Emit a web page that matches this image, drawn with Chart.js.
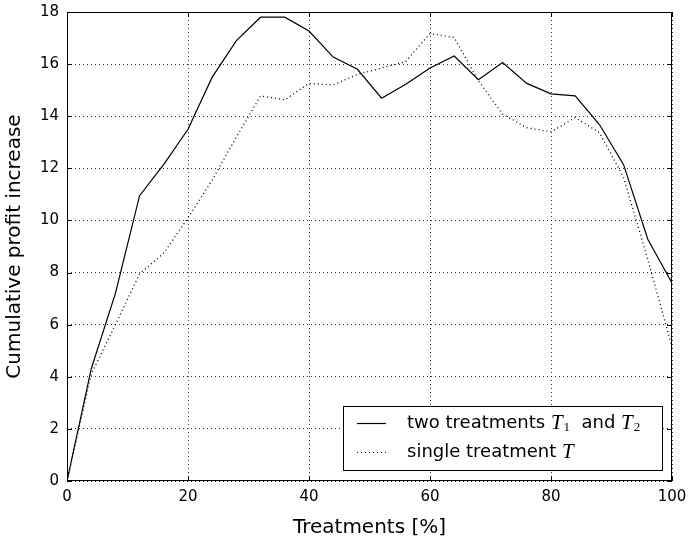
<!DOCTYPE html>
<html>
<head>
<meta charset="utf-8">
<script src="https://cdn.jsdelivr.net/npm/chart.js@4.4.1/dist/chart.umd.min.js"></script>
<style>
  html, body { margin: 0; padding: 0; background: #fff; }
  #wrap { width: 688px; height: 540px; }
</style>
</head>
<body>
<div id="wrap"><canvas id="chart" width="688" height="540"></canvas></div>
<script>
// Data
const treatmentsPct = [0, 4, 8, 12, 16, 20, 24, 28, 32, 36, 40, 44, 48, 52, 56, 60, 64, 68, 72, 76, 80, 84, 88, 92, 96, 100];
const twoTreatments = [0, 4.3, 7.2, 10.95, 12.15, 13.5, 15.5, 16.9, 17.8, 17.8, 17.27, 16.27, 15.8, 14.69, 15.23, 15.85, 16.31, 15.4, 16.06, 15.26, 14.86, 14.78, 13.68, 12.14, 9.28, 7.6];
const singleTreatment = [0, 4.1, 6.0, 7.95, 8.75, 10.1, 11.55, 13.2, 14.78, 14.63, 15.26, 15.2, 15.6, 15.85, 16.1, 17.18, 17.02, 15.36, 14.08, 13.56, 13.4, 13.95, 13.37, 11.65, 8.5, 5.15];
const xTicks = [0, 20, 40, 60, 80, 100];
const yTicks = [0, 2, 4, 6, 8, 10, 12, 14, 16, 18];

const FONT = "'DejaVu Sans', sans-serif";

// Frame and inward tick marks like the classic matplotlib look
const framePlugin = {
  id: 'frame',
  afterDatasetsDraw(chart) {
    const { ctx, chartArea: a, scales } = chart;
    ctx.save();
    ctx.strokeStyle = '#000';
    ctx.lineWidth = 1;
    ctx.setLineDash([]);
    ctx.strokeRect(a.left + 0.5, a.top + 0.5, a.right - a.left - 1, a.bottom - a.top - 1);
    ctx.beginPath();
    xTicks.forEach(v => {
      const x = Math.round(scales.x.getPixelForValue(v)) + 0.5;
      ctx.moveTo(x, a.bottom); ctx.lineTo(x, a.bottom - 5);
      ctx.moveTo(x, a.top); ctx.lineTo(x, a.top + 5);
    });
    yTicks.forEach(v => {
      const y = Math.round(scales.y.getPixelForValue(v)) + 0.5;
      ctx.moveTo(a.left, y); ctx.lineTo(a.left + 5, y);
      ctx.moveTo(a.right, y); ctx.lineTo(a.right - 5, y);
    });
    ctx.stroke();
    ctx.restore();
  }
};

// Legend box with math-style T subscripts
const legendPlugin = {
  id: 'mathLegend',
  afterDraw(chart) {
    const ctx = chart.ctx;
    const box = { x: 343.5, y: 406.5, w: 319, h: 64 };
    ctx.save();
    ctx.fillStyle = '#fff';
    ctx.fillRect(box.x, box.y, box.w, box.h);
    ctx.strokeStyle = '#000';
    ctx.lineWidth = 1;
    ctx.strokeRect(box.x, box.y, box.w, box.h);

    const rows = [
      { y: 423, dash: [], parts: [['two treatments ', 'n'], ['T', 'i'], ['1', 's'], ['  and ', 'n'], ['T', 'i'], ['2', 's']] },
      { y: 452, dash: [1, 3], parts: [['single treatment ', 'n'], ['T', 'i']] }
    ];
    rows.forEach(r => {
      ctx.setLineDash(r.dash);
      ctx.lineWidth = 1.2;
      ctx.beginPath();
      ctx.moveTo(357, r.y + 0.5);
      ctx.lineTo(386, r.y + 0.5);
      ctx.stroke();
      ctx.setLineDash([]);
      ctx.fillStyle = '#000';
      ctx.textBaseline = 'middle';
      let x = 407;
      r.parts.forEach(([txt, kind]) => {
        let dy = 0;
        if (kind === 'n') ctx.font = '18px ' + FONT;
        else if (kind === 'i') ctx.font = 'italic 21px "Liberation Serif", serif';
        else { ctx.font = '13px "Liberation Serif", serif'; dy = 5; }
        ctx.fillText(txt, x, r.y + dy);
        x += ctx.measureText(txt).width;
        if (kind === 'i') x += 1;
      });
    });
    ctx.restore();
  }
};

const gridStyle = {
  color: 'rgba(0,0,0,0.8)',
  lineWidth: 1,
  drawTicks: false
};

new Chart(document.getElementById('chart'), {
  type: 'line',
  data: {
    datasets: [
      {
        label: 'two treatments',
        data: treatmentsPct.map((x, i) => ({ x, y: twoTreatments[i] })),
        borderColor: '#000',
        borderWidth: 1.2,
        pointRadius: 0,
        tension: 0,
        fill: false
      },
      {
        label: 'single treatment',
        data: treatmentsPct.map((x, i) => ({ x, y: singleTreatment[i] })),
        borderColor: '#000',
        borderWidth: 1.3,
        borderDash: [1, 3],
        pointRadius: 0,
        tension: 0,
        fill: false
      }
    ]
  },
  options: {
    responsive: false,
    animation: false,
    events: [],
    layout: { padding: { left: 0, top: 12, right: 16, bottom: 0 } },
    plugins: {
      legend: { display: false },
      tooltip: { enabled: false }
    },
    scales: {
      x: {
        type: 'linear',
        min: 0,
        max: 100,
        afterFit: s => { s.height = 59; s.paddingLeft = 0; s.paddingRight = 0; },
        afterBuildTicks: s => { s.ticks = xTicks.map(v => ({ value: v })); },
        grid: { ...gridStyle },
        border: { display: false, dash: [1, 3] },
        ticks: { color: '#000', font: { family: FONT, size: 15 }, padding: 7, maxRotation: 0 },
        title: {
          display: true,
          text: 'Treatments [%]',
          color: '#000',
          font: { family: FONT, size: 20 },
          padding: { top: 6, bottom: 0 }
        }
      },
      y: {
        min: 0,
        max: 18,
        afterFit: s => { s.width = 67; s.paddingTop = 0; s.paddingBottom = 0; },
        afterBuildTicks: s => { s.ticks = yTicks.map(v => ({ value: v })); },
        grid: { ...gridStyle },
        border: { display: false, dash: [1, 3] },
        ticks: { color: '#000', font: { family: FONT, size: 15 }, padding: 8 },
        title: {
          display: true,
          text: 'Cumulative profit increase',
          color: '#000',
          font: { family: FONT, size: 20 },
          padding: { top: 3, bottom: 0 }
        }
      }
    }
  },
  plugins: [framePlugin, legendPlugin]
});
</script>
</body>
</html>
